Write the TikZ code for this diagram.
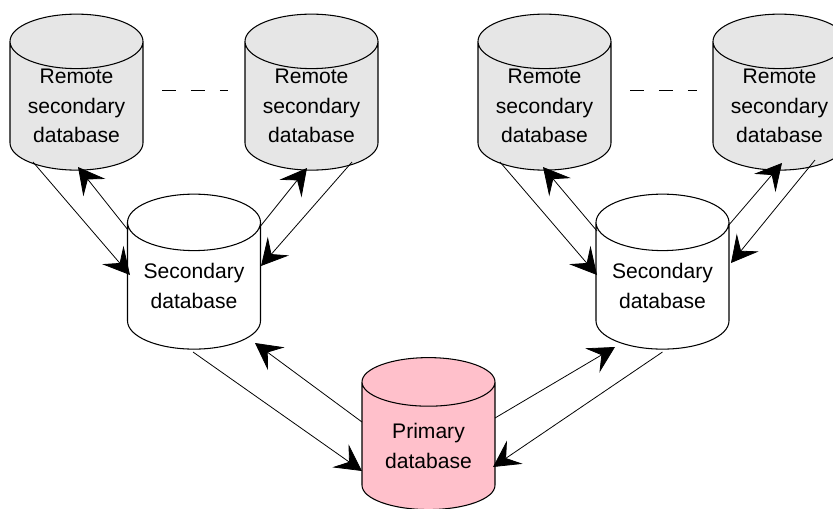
\documentclass[tikz,border=0pt]{standalone}
\usepackage{fontspec}
\setmainfont{Liberation Sans}
\usetikzlibrary{shapes.geometric,calc,arrows.meta}
\definecolor{remotegray}{RGB}{230,230,230}
\definecolor{primarypink}{RGB}{255,192,203}

\begin{document}
\begin{tikzpicture}[x=0.02cm,y=-0.02cm,
    db/.style={cylinder,shape border rotate=90,draw,line width=0.6pt,shape aspect=0.56,
      minimum width=2.66cm,minimum height=3cm,inner sep=0pt,align=center,
      font=\fontsize{12}{16.8}\selectfont},
    link/.style={-{Stealth[length=15pt,width=16pt,inset=6pt]},line width=0.45pt}]
  \useasboundingbox (0,0) rectangle (833,508);
  % remote secondaries
  \node[db,fill=remotegray] (rem1) at (76.5,106) {Remote\\secondary\\database};
  \node[db,fill=remotegray] (rem2) at (311.5,106) {Remote\\secondary\\database};
  \node[db,fill=remotegray] (rem3) at (544.5,106) {Remote\\secondary\\database};
  \node[db,fill=remotegray] (rem4) at (779.5,106) {Remote\\secondary\\database};
  % secondaries and primary
  \node[db,fill=white,minimum height=3.1cm] (sec1) at (194,286) {Secondary\\database};
  \node[db,fill=white,minimum height=3.1cm] (sec2) at (662.5,286) {Secondary\\database};
  \node[db,fill=primarypink,minimum height=3.04cm] (prim) at (428.5,446) {Primary\\database};
  % dots between remotes
  \draw[dash pattern=on 8pt off 8.5pt,line width=0.45pt] ($(rem1.center)+(85.5,-16)$) -- ($(rem2.center)+(-83.5,-16)$);
  \draw[dash pattern=on 8pt off 8.5pt,line width=0.45pt] ($(rem3.center)+(85.5,-16)$) -- ($(rem4.center)+(-82.5,-16)$);
  % left branch
  \draw[link] ($(rem1.center)+(-43.5,56)$) -- ($(sec1.center)+(-64,-11)$);
  \draw[link] ($(sec1.center)+(-66,-56)$) -- ($(rem1.center)+(1.5,61)$);
  \draw[link] ($(sec1.center)+(65,-58)$) -- ($(rem2.center)+(-4.5,62)$);
  \draw[link] ($(rem2.center)+(40.5,56)$) -- ($(sec1.center)+(67,-20)$);
  \draw[link] ($(sec1.center)+(-1,66)$) -- ($(prim.center)+(-66.5,25)$);
  \draw[link] ($(prim.center)+(-66.5,-24)$) -- ($(sec1.center)+(61,57)$);
  % right branch
  \draw[link] ($(prim.center)+(66.5,-28)$) -- ($(sec2.center)+(-47.5,61)$);
  \draw[link] ($(sec2.center)+(0,66)$) -- ($(prim.center)+(64.5,21)$);
  \draw[link] ($(rem3.center)+(-44.5,56)$) -- ($(sec2.center)+(-65.5,-11)$);
  \draw[link] ($(sec2.center)+(-65.5,-55)$) -- ($(rem3.center)+(-1.5,61)$);
  \draw[link] ($(sec2.center)+(65.5,-60)$) -- ($(rem4.center)+(2.5,57)$);
  \draw[link] ($(rem4.center)+(35.5,54)$) -- ($(sec2.center)+(68.5,-23)$);
\end{tikzpicture}
\end{document}
